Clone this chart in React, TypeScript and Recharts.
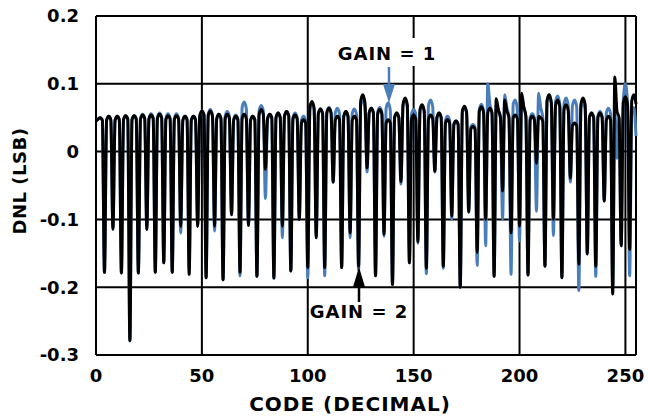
import React from 'react';
import { LineChart, Line, XAxis, YAxis, CartesianGrid, ReferenceLine } from 'recharts';

// DNL per code (one value per code 0..255)
const gain1Dnl = [
  0.045, 0.048, 0.05, 0.046, -0.178, 0.046, 0.052, 0.047, -0.115, 0.046, 0.052, 0.047, -0.179, 0.047, 0.053, 0.048,
  -0.279, 0.047, 0.053, 0.048, -0.179, 0.048, 0.055, 0.049, -0.115, 0.049, 0.056, 0.049, -0.178, 0.05, 0.057, 0.05,
  -0.164, 0.049, 0.056, 0.049, -0.178, 0.049, 0.056, 0.049, -0.12, 0.046, 0.052, 0.047, -0.173, 0.046, 0.052, 0.047,
  -0.11, 0.053, 0.06, 0.054, -0.186, 0.055, 0.062, 0.054, -0.117, 0.048, 0.055, 0.049, -0.189, 0.052, 0.059, 0.052,
  -0.093, 0.048, 0.054, 0.048, -0.183, 0.065, 0.073, 0.063, -0.109, 0.046, 0.052, 0.047, -0.184, 0.06, 0.068, 0.06,
  -0.069, 0.048, 0.055, 0.05, -0.187, 0.05, 0.057, 0.05, -0.127, 0.052, 0.059, 0.053, -0.176, 0.05, 0.057, 0.05,
  -0.1, 0.046, 0.052, 0.046, -0.186, 0.062, 0.07, 0.062, -0.127, 0.056, 0.063, 0.056, -0.183, 0.058, 0.065, 0.058,
  -0.045, 0.057, 0.064, 0.056, -0.171, 0.052, 0.059, 0.052, -0.127, 0.056, 0.063, 0.055, -0.175, 0.068, 0.076, 0.066,
  -0.03, 0.057, 0.064, 0.057, -0.183, 0.058, 0.065, 0.058, -0.125, 0.064, 0.072, 0.06, -0.196, 0.05, 0.057, 0.05,
  -0.048, 0.068, 0.076, 0.066, -0.164, 0.055, 0.062, 0.055, -0.135, 0.06, 0.067, 0.058, -0.18, 0.068, 0.076, 0.066,
  -0.03, 0.05, 0.057, 0.05, -0.172, 0.046, 0.052, 0.046, -0.1, 0.04, 0.045, 0.04, -0.2, 0.058, 0.065, 0.057,
  -0.089, 0.036, 0.04, 0.036, -0.168, 0.062, 0.07, 0.06, -0.139, 0.1, 0.07, 0.055, -0.184, 0.07, 0.06, 0.05,
  -0.1, 0.084, 0.065, 0.052, -0.181, 0.07, 0.076, 0.06, -0.132, 0.08, 0.066, 0.052, -0.182, 0.05, 0.056, 0.05,
  -0.088, 0.086, 0.065, 0.05, -0.169, 0.075, 0.084, 0.072, -0.124, 0.074, 0.082, 0.07, -0.186, 0.07, 0.079, 0.068,
  -0.045, 0.068, 0.076, 0.066, -0.205, 0.065, 0.072, 0.062, -0.151, 0.05, 0.057, 0.05, -0.184, 0.052, 0.059, 0.052,
  -0.073, 0.057, 0.064, 0.056, -0.2, 0.06, -0.01, 0.05, -0.139, 0.075, 0.1, 0.07, -0.183, 0.06, 0.065, 0.023,
];

const gain2Dnl = [
  0.045, 0.048, 0.05, 0.046, -0.178, 0.046, 0.052, 0.047, -0.114, 0.046, 0.052, 0.047, -0.179, 0.047, 0.053, 0.048,
  -0.279, 0.047, 0.053, 0.048, -0.179, 0.048, 0.054, 0.049, -0.115, 0.048, 0.054, 0.049, -0.178, 0.049, 0.055, 0.05,
  -0.164, 0.047, 0.053, 0.048, -0.178, 0.047, 0.053, 0.048, -0.11, 0.046, 0.052, 0.047, -0.181, 0.046, 0.052, 0.047,
  -0.11, 0.052, 0.06, 0.054, -0.186, 0.053, 0.06, 0.052, -0.11, 0.048, 0.055, 0.049, -0.189, 0.049, 0.055, 0.048,
  -0.093, 0.046, 0.052, 0.047, -0.178, 0.049, 0.055, 0.048, -0.109, 0.046, 0.052, 0.047, -0.184, 0.054, 0.062, 0.055,
  -0.026, 0.048, 0.055, 0.05, -0.186, 0.05, 0.057, 0.05, -0.11, 0.052, 0.059, 0.053, -0.176, 0.048, 0.054, 0.048,
  -0.1, 0.042, 0.047, 0.042, -0.171, 0.066, 0.074, 0.064, -0.127, 0.056, 0.063, 0.056, -0.171, 0.057, 0.064, 0.057,
  -0.045, 0.046, 0.052, 0.047, -0.171, 0.052, 0.059, 0.052, -0.12, 0.046, 0.052, 0.047, -0.169, 0.075, 0.084, 0.072,
  -0.024, 0.057, 0.064, 0.057, -0.183, 0.055, 0.062, 0.055, -0.122, 0.042, 0.047, 0.042, -0.196, 0.05, 0.057, 0.05,
  -0.044, 0.07, 0.079, 0.069, -0.164, 0.048, 0.054, 0.048, -0.133, 0.062, 0.069, 0.06, -0.172, 0.048, 0.054, 0.048,
  -0.029, 0.05, 0.057, 0.05, -0.169, 0.042, 0.047, 0.042, -0.095, 0.04, 0.045, 0.04, -0.2, 0.06, 0.067, 0.058,
  -0.089, 0.033, 0.037, 0.033, -0.149, 0.059, 0.066, 0.058, -0.1, 0.057, 0.064, 0.057, -0.184, 0.078, 0.062, 0.05,
  -0.058, 0.076, 0.06, 0.05, -0.12, 0.05, 0.054, 0.048, -0.11, 0.086, 0.066, 0.052, -0.182, 0.046, 0.052, 0.047,
  -0.017, 0.052, 0.05, 0.045, -0.169, 0.075, 0.084, 0.072, -0.1, 0.068, 0.076, 0.066, -0.186, 0.062, 0.069, 0.06,
  -0.039, 0.038, 0.042, 0.038, -0.166, 0.07, 0.079, 0.069, -0.151, 0.05, 0.057, 0.05, -0.169, 0.05, 0.057, 0.05,
  -0.073, 0.046, 0.052, 0.047, -0.21, 0.11, 0.06, 0.05, -0.139, 0.072, 0.081, 0.07, -0.144, 0.075, 0.084, 0.07,
];

const xTicks = [0, 50, 100, 150, 200, 250];
const yTicks = [-0.3, -0.2, -0.1, 0, 0.1, 0.2];

const rows = gain2Dnl.map((v, code) => ({ code, g1: gain1Dnl[code], g2: v }));

const FONT = "Verdana, 'DejaVu Sans', sans-serif";
const tickStyle = { fontFamily: FONT, fontWeight: 700, fontSize: 18, fill: '#000' };
const titleStyle = { ...tickStyle, fontSize: 20, letterSpacing: 1 };
const noteStyle = { ...tickStyle, letterSpacing: 1 };

export default function App() {
  return (
    <div style={{ position: 'absolute', left: 0, top: 0, width: 648, height: 416, background: '#fff' }}>
      <LineChart width={648} height={416} data={rows} margin={{ top: 16, right: 12, bottom: 0, left: 0 }}>
        <CartesianGrid stroke="#000" strokeWidth={2} />
        <XAxis
          dataKey="code"
          type="number"
          domain={[0, 255]}
          ticks={xTicks}
          height={61}
          tickLine={false}
          tickSize={0}
          tickMargin={14}
          axisLine={{ stroke: '#000', strokeWidth: 2 }}
          tick={tickStyle}
        />
        <YAxis
          type="number"
          domain={[-0.3, 0.2]}
          ticks={yTicks}
          width={96}
          tickLine={false}
          tickSize={0}
          tickMargin={17}
          axisLine={{ stroke: '#000', strokeWidth: 2 }}
          tick={tickStyle}
          tickFormatter={(v: number) => (v === 0 ? '0' : v.toFixed(1))}
        />
        <ReferenceLine x={255} stroke="#000" strokeWidth={2} />
        <Line type="monotone" dataKey="g1" stroke="#4a7ebb" strokeWidth={3} dot={false} isAnimationActive={false} />
        <Line type="monotone" dataKey="g2" stroke="#000" strokeWidth={3} dot={false} isAnimationActive={false} />
      </LineChart>
      <svg width={648} height={416} style={{ position: 'absolute', left: 0, top: 0, pointerEvents: 'none' }}>
        <text x={350} y={411} textAnchor="middle" style={titleStyle}>CODE (DECIMAL)</text>
        <text x={26} y={181} textAnchor="middle" transform="rotate(-90 26 181)" style={{ ...tickStyle, letterSpacing: 0.5 }}>DNL (LSB)</text>
        <rect x={334} y={38} width={104} height={28} fill="#fff" />
        <text x={387} y={60} textAnchor="middle" style={noteStyle}>GAIN = 1</text>
        <line x1={389} y1={67} x2={389} y2={88} stroke="#4a7ebb" strokeWidth={2.5} />
        <path d="M383,84 L395,84 L389,103 Z" fill="#4a7ebb" />
        <rect x={309} y={299} width={102} height={26} fill="#fff" />
        <text x={359} y={318} textAnchor="middle" style={noteStyle}>GAIN = 2</text>
        <line x1={359} y1={302} x2={359} y2={280} stroke="#000" strokeWidth={2.5} />
        <path d="M353,287 L365,287 L359,267 Z" fill="#000" />
      </svg>
    </div>
  );
}
